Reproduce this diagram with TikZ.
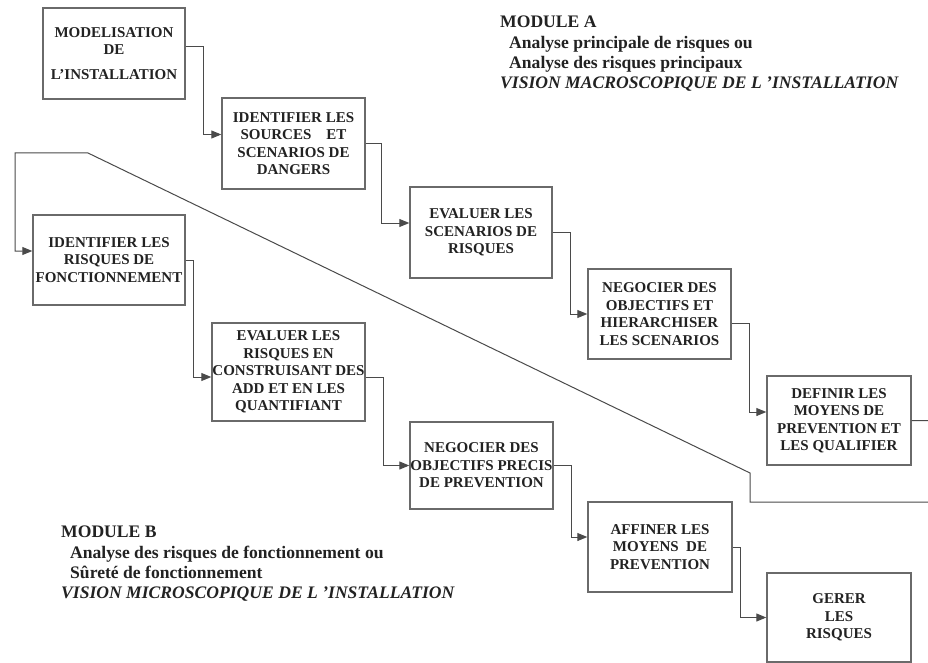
\documentclass[tikz,border=0pt]{standalone}
\usepackage{fontspec}
\setmainfont{Liberation Serif}
\usetikzlibrary{arrows.meta}
\definecolor{BoxGray}{HTML}{6A6A6A}
\definecolor{LinkInk}{HTML}{4A4A4A}
\definecolor{TextInk}{HTML}{222222}

\begin{document}
\begin{tikzpicture}[x=1pt,y=-1pt,
  etape/.style={draw=BoxGray,line width=1.4pt,inner sep=0pt,align=center,
    minimum width=143pt,minimum height=90pt,text=TextInk,
    font=\fontsize{15}{17.5}\selectfont\bfseries},
  link/.style={LinkInk,line width=1pt,-{Triangle[length=10pt,width=8pt]}},
  module/.style={anchor=north west,align=left,inner sep=0pt,text=TextInk,
    font=\fontsize{17.6}{20.3}\selectfont\bfseries}]
  \clip (0,0) rectangle (928,663);
  \fill[white] (0,0) rectangle (928,663);
  \node[etape,minimum width=142pt,minimum height=91pt] (modelisation) at (114,53.5)
    {MODELISATION\\DE\\[7.5pt]L'INSTALLATION};
  \node[etape,minimum height=91pt] (sources) at (293.5,143.5)
    {IDENTIFIER LES\\SOURCES\quad ET\\SCENARIOS DE\\DANGERS};
  \node[etape,minimum width=142pt,minimum height=91pt] (evalscen) at (481,232.5)
    {EVALUER LES\\SCENARIOS DE\\RISQUES};
  \node[etape] (hierarchiser) at (659.5,314)
    {NEGOCIER DES\\OBJECTIFS ET\\HIERARCHISER\\LES SCENARIOS};
  \node[etape,minimum width=144pt,minimum height=89pt] (definir) at (839,420.5)
    {DEFINIR LES\\MOYENS DE\\PREVENTION ET\\LES QUALIFIER};
  \node[etape,minimum width=152pt] (fonction) at (109,260)
    {IDENTIFIER LES\\RISQUES DE\\FONCTIONNEMENT};
  \node[etape,minimum width=153pt,minimum height=98pt] (construire) at (288.5,372)
    {EVALUER LES\\RISQUES EN\\CONSTRUISANT DES\\ADD ET EN LES\\QUANTIFIANT};
  \node[etape,minimum height=87pt] (precis) at (481.5,465.5)
    {NEGOCIER DES\\OBJECTIFS PRECIS\\DE PREVENTION};
  \node[etape,minimum width=144pt] (affiner) at (660,547)
    {AFFINER LES\\MOYENS\ \ DE\\PREVENTION};
  \node[etape,minimum width=144pt,minimum height=89pt] (gerer) at (839,617.5)
    {GERER\\LES\\RISQUES};
  \coordinate (coinbas) at (750,502);
  \coordinate (coinhaut) at (88,153);
  \draw[link] ([yshift=7pt]modelisation.east) -- ++(18,0) |- ([yshift=9pt]sources.west);
  \draw[link] (sources.east) -- ++(16,0) |- ([yshift=9.5pt]evalscen.west);
  \draw[link] (evalscen.east) -- ++(18,0) |- (hierarchiser.west);
  \draw[link] ([yshift=-9pt]hierarchiser.east) -- ++(18,0) |- ([yshift=8.5pt]definir.west);
  \draw[link] (definir.east) -- (945,421) |- (coinbas) -- ++(0,-29) -- (coinhaut)
    -- (15,153) |- ([yshift=9pt]fonction.west);
  \draw[link] (fonction.east) -- ++(8,0) |- ([yshift=-5pt]construire.west);
  \draw[link] ([yshift=-5pt]construire.east) -- ++(18,0) |- (precis.west);
  \draw[link] (precis.east) -- ++(18,0) |- ([yshift=10pt]affiner.west);
  \draw[link] (affiner.east) -- ++(8,0) |- (gerer.west);
  \node[module] (moduleA) at (500,16)
    {MODULE A\\\hspace*{9pt}Analyse principale de risques ou\\
     \hspace*{9pt}Analyse des risques principaux\\
     \textit{VISION MACROSCOPIQUE DE L 'INSTALLATION}};
  \node[module] (moduleB) at (61,526)
    {MODULE B\\\hspace*{9pt}Analyse des risques de fonctionnement ou\\
     \hspace*{9pt}Sûreté de fonctionnement\\
     \textit{VISION MICROSCOPIQUE DE L 'INSTALLATION}};
\end{tikzpicture}
\end{document}
